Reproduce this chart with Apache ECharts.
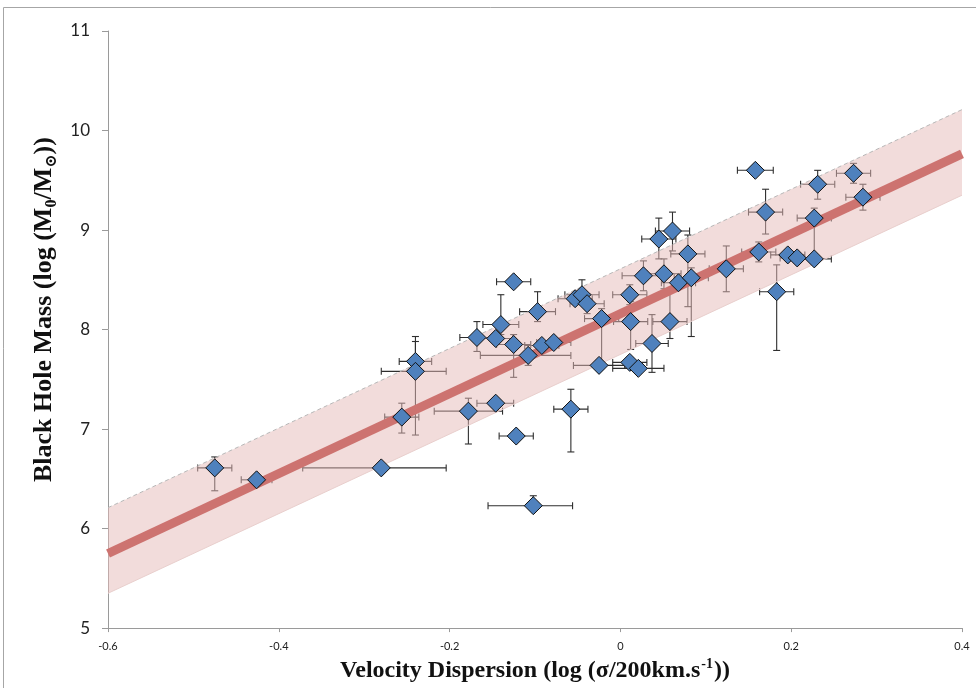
<!DOCTYPE html>
<html>
<head>
<meta charset="utf-8">
<title>Black hole mass vs velocity dispersion</title>
<script src="https://cdn.jsdelivr.net/npm/echarts@6/dist/echarts.min.js"></script>
<style>
  html, body { margin: 0; padding: 0; background: #ffffff; }
  #chart { width: 976px; height: 688px; }
</style>
</head>
<body>
<div id="chart"></div>
<script>
// Galaxies: log velocity dispersion (sigma/200 km/s) and log black hole mass
const sigma = [
  -0.475, -0.426, -0.280, -0.256, -0.240, -0.240, -0.178, -0.146, -0.122, -0.102,
  -0.058, -0.125, -0.140, -0.097, -0.168, -0.146, -0.125, -0.108, -0.092, -0.078,
  -0.053, -0.045, -0.039, -0.022, -0.025, 0.012, 0.011, 0.037, 0.011, 0.021,
  0.058, 0.027, 0.051, 0.068, 0.083, 0.045, 0.061, 0.079, 0.124, 0.158,
  0.170, 0.162, 0.183, 0.196, 0.207, 0.227, 0.227, 0.231, 0.273, 0.284
];
const mass = [
  6.61, 6.49, 6.61, 7.12, 7.68, 7.58, 7.18, 7.26, 6.93, 6.23,
  7.20, 8.48, 8.05, 8.18, 7.92, 7.91, 7.85, 7.74, 7.84, 7.87,
  8.31, 8.35, 8.26, 8.11, 7.64, 8.08, 8.35, 7.86, 7.67, 7.61,
  8.08, 8.54, 8.56, 8.47, 8.52, 8.91, 8.99, 8.76, 8.61, 9.60,
  9.18, 8.78, 8.38, 8.75, 8.72, 8.71, 9.12, 9.46, 9.57, 9.33
];
// Uncertainties (minus / plus)
const sigmaErrMinus = [
  0.020, 0.018, 0.092, 0.020, 0.019, 0.040, 0.040, 0.022, 0.020, 0.053,
  0.020, 0.020, 0.021, 0.021, 0.020, 0.020, 0.020, 0.056, 0.020, 0.020,
  0.020, 0.020, 0.020, 0.020, 0.030, 0.020, 0.020, 0.019, 0.020, 0.030,
  0.020, 0.025, 0.020, 0.020, 0.020, 0.020, 0.020, 0.020, 0.020, 0.021,
  0.020, 0.020, 0.020, 0.020, 0.020, 0.020, 0.020, 0.020, 0.020, 0.020
];
const sigmaErrPlus = [
  0.020, 0.018, 0.076, 0.020, 0.019, 0.036, 0.040, 0.021, 0.020, 0.046,
  0.020, 0.020, 0.021, 0.021, 0.020, 0.020, 0.020, 0.050, 0.020, 0.020,
  0.020, 0.020, 0.020, 0.020, 0.030, 0.020, 0.020, 0.019, 0.020, 0.030,
  0.020, 0.025, 0.020, 0.020, 0.020, 0.020, 0.020, 0.020, 0.020, 0.021,
  0.020, 0.020, 0.020, 0.020, 0.020, 0.020, 0.020, 0.020, 0.020, 0.020
];
const massErrMinus = [
  0.23, 0.03, 0.00, 0.16, 0.10, 0.64, 0.33, 0.00, 0.00, 0.03,
  0.43, 0.00, 0.10, 0.10, 0.14, 0.05, 0.33, 0.10, 0.05, 0.05,
  0.05, 0.10, 0.10, 0.47, 0.05, 0.28, 0.10, 0.29, 0.05, 0.05,
  0.17, 0.15, 0.15, 0.05, 0.59, 0.20, 0.20, 0.53, 0.23, 0.00,
  0.22, 0.10, 0.59, 0.05, 0.05, 0.05, 0.41, 0.15, 0.10, 0.13
];
const massErrPlus = [
  0.11, 0.03, 0.00, 0.14, 0.25, 0.30, 0.13, 0.00, 0.00, 0.10,
  0.20, 0.00, 0.30, 0.20, 0.16, 0.05, 0.10, 0.10, 0.05, 0.05,
  0.05, 0.15, 0.10, 0.10, 0.05, 0.20, 0.10, 0.29, 0.05, 0.05,
  0.30, 0.15, 0.15, 0.05, 0.10, 0.21, 0.19, 0.19, 0.23, 0.00,
  0.23, 0.10, 0.27, 0.05, 0.05, 0.05, 0.10, 0.14, 0.10, 0.13
];

// Best-fit relation and its scatter band, at the axis ends
const fitSigma = [-0.6, 0.4];
const fitMass = [5.75, 9.765];
const bandUpper = [6.21, 10.21];
const bandLower = [5.35, 9.35];

// Axis ticks
const xTicks = [-0.6, -0.4, -0.2, 0, 0.2, 0.4];
const yTicks = [5, 6, 7, 8, 9, 10, 11];

const points = sigma.map((s, i) => [s, mass[i]]);
const errData = sigma.map((s, i) => [
  s, mass[i],
  s - sigmaErrMinus[i], s + sigmaErrPlus[i],
  mass[i] - massErrMinus[i], mass[i] + massErrPlus[i]
]);
const fitLine = fitSigma.map((s, i) => [s, fitMass[i]]);
const upperEdge = fitSigma.map((s, i) => [s, bandUpper[i]]);
const lowerEdge = fitSigma.map((s, i) => [s, bandLower[i]]);

const chart = echarts.init(document.getElementById('chart'), null, { renderer: 'canvas' });

const serif = '"Liberation Serif", "Times New Roman", "DejaVu Serif", serif';
const sans = 'Lato, "Open Sans", "Liberation Sans", sans-serif';

function errRender(params, api) {
  const x = api.value(0), y = api.value(1);
  const l = api.coord([api.value(2), y]);
  const r = api.coord([api.value(3), y]);
  const b = api.coord([x, api.value(4)]);
  const t = api.coord([x, api.value(5)]);
  const cap = 3.5;
  const style = { stroke: '#2e2e2e', lineWidth: 1.1 };
  const kids = [];
  if (Math.abs(r[0] - l[0]) > 1) {
    kids.push({ type: 'line', shape: { x1: l[0], y1: l[1], x2: r[0], y2: r[1] }, style });
    kids.push({ type: 'line', shape: { x1: l[0], y1: l[1] - cap, x2: l[0], y2: l[1] + cap }, style });
    kids.push({ type: 'line', shape: { x1: r[0], y1: r[1] - cap, x2: r[0], y2: r[1] + cap }, style });
  }
  if (Math.abs(b[1] - t[1]) > 1) {
    kids.push({ type: 'line', shape: { x1: b[0], y1: b[1], x2: t[0], y2: t[1] }, style });
    kids.push({ type: 'line', shape: { x1: b[0] - cap, y1: b[1], x2: b[0] + cap, y2: b[1] }, style });
    kids.push({ type: 'line', shape: { x1: t[0] - cap, y1: t[1], x2: t[0] + cap, y2: t[1] }, style });
  }
  return { type: 'group', children: kids };
}

function bandRender(params, api) {
  const pts = [];
  for (let i = 0; i < fitSigma.length; i++) pts.push(api.coord([fitSigma[i], bandUpper[i]]));
  for (let i = fitSigma.length - 1; i >= 0; i--) pts.push(api.coord([fitSigma[i], bandLower[i]]));
  return {
    type: 'polygon',
    shape: { points: pts },
    style: { fill: 'rgba(229,185,183,0.5)', stroke: null }
  };
}

const option = {
  backgroundColor: '#ffffff',
  animation: false,
  grid: { left: 108, right: 14, top: 31, bottom: 46, containLabel: false },
  xAxis: {
    type: 'value',
    min: xTicks[0], max: xTicks[xTicks.length - 1], interval: 0.2,
    splitLine: { show: false },
    axisLine: { onZero: false, lineStyle: { color: '#9a9a9a', width: 1 } },
    axisTick: { show: true, length: 4, lineStyle: { color: '#9a9a9a' } },
    axisLabel: {
      color: '#222', fontFamily: sans, fontSize: 11, margin: 13,
      formatter: v => (Math.abs(v) < 1e-9 ? '0' : (Math.round(v * 10) / 10).toFixed(1))
    },
    name: '{t|Velocity Dispersion (log (σ/200km.s}{p|-1}{t|))}',
    nameLocation: 'middle', nameGap: 28,
    nameTextStyle: {
      rich: {
        t: { fontFamily: serif, fontWeight: 'bold', fontSize: 24, color: '#111', lineHeight: 28 },
        p: { fontFamily: serif, fontWeight: 'bold', fontSize: 14, color: '#111', lineHeight: 28, verticalAlign: 'top', padding: [0, 1, 10, 1] }
      }
    }
  },
  yAxis: {
    type: 'value',
    min: yTicks[0], max: yTicks[yTicks.length - 1], interval: 1,
    splitLine: { show: false },
    axisLine: { show: true, onZero: false, lineStyle: { color: '#9a9a9a', width: 1 } },
    axisTick: { show: true, length: 6, lineStyle: { color: '#9a9a9a' } },
    axisLabel: { color: '#222', fontFamily: sans, fontSize: 17, margin: 18 },
    name: '{t|Black Hole Mass (log (M}{s|0}{t|/M}{s|⊙}{t|))}',
    nameLocation: 'middle', nameGap: 42, nameRotate: 90,
    nameTextStyle: {
      padding: [0, 0, 0, 40],
      rich: {
        t: { fontFamily: serif, fontWeight: 'bold', fontSize: 26, color: '#111', lineHeight: 30 },
        s: { fontFamily: serif, fontWeight: 'bold', fontSize: 16, color: '#111', lineHeight: 16, verticalAlign: 'bottom', padding: [11, 0, 0, 0] }
      }
    }
  },
  series: [
    {
      name: 'errors', type: 'custom', z: 2,
      renderItem: errRender,
      encode: { x: 0, y: 1 },
      data: errData,
      silent: true
    },
    {
      name: 'band', type: 'custom', z: 3,
      renderItem: bandRender,
      data: [[fitSigma[0], fitMass[0]]],
      silent: true
    },
    {
      name: 'band upper edge', type: 'line', z: 3,
      data: upperEdge, symbol: 'none',
      lineStyle: { color: '#b8b8b8', width: 1, type: [4, 3] },
      silent: true
    },
    {
      name: 'band lower edge', type: 'line', z: 3,
      data: lowerEdge, symbol: 'none',
      lineStyle: { color: '#e9cfcd', width: 1 },
      silent: true
    },
    {
      name: 'fit', type: 'line', z: 4,
      data: fitLine, symbol: 'none',
      lineStyle: { color: '#cd7370', width: 9, cap: 'butt' },
      silent: true
    },
    {
      name: 'galaxies', type: 'scatter', z: 5,
      data: points,
      symbol: 'diamond', symbolSize: 18,
      itemStyle: { color: '#4f81bd', borderColor: '#111', borderWidth: 1, opacity: 1 }
    }
  ],
  graphic: [
    {
      type: 'rect', silent: true, z: 0,
      shape: { x: 3.5, y: 7.5, width: 990, height: 700 },
      style: { fill: 'none', stroke: '#a6a6a6', lineWidth: 1 }
    }
  ]
};

chart.setOption(option);
</script>
</body>
</html>
